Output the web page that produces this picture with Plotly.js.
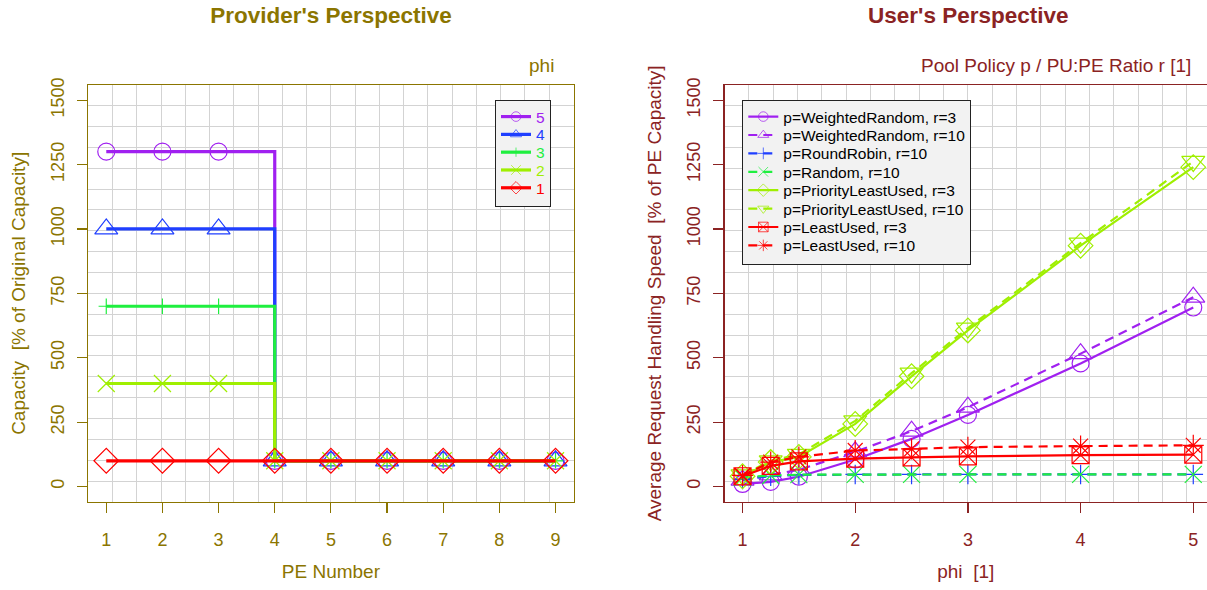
<!DOCTYPE html>
<html>
<head>
<meta charset="utf-8">
<script src="https://cdn.plot.ly/plotly-3.0.1.min.js"></script>
<style>html,body{margin:0;padding:0;background:#fff}#chart{width:1207px;height:590px}</style>
</head>
<body>
<div id="chart"></div>
<script>
// ---------- data: Provider's Perspective ----------
var peNumbers = [1, 2, 3, 4, 5, 6, 7, 8, 9];
var phiLabels = ['5', '4', '3', '2', '1'];
var capPhi5 = [1300, 1300, 1300, 100, 100, 100, 100, 100, 100];
var capPhi4 = [1000, 1000, 1000, 100, 100, 100, 100, 100, 100];
var capPhi3 = [700, 700, 700, 100, 100, 100, 100, 100, 100];
var capPhi2 = [400, 400, 400, 100, 100, 100, 100, 100, 100];
var capPhi1 = [100, 100, 100, 100, 100, 100, 100, 100, 100];

// ---------- data: User's Perspective ----------
var phiValues = [1, 1.25, 1.5, 2, 2.5, 3, 4, 5];
var seriesNames = ['p=WeightedRandom, r=3', 'p=WeightedRandom, r=10', 'p=RoundRobin, r=10',
  'p=Random, r=10', 'p=PriorityLeastUsed, r=3', 'p=PriorityLeastUsed, r=10',
  'p=LeastUsed, r=3', 'p=LeastUsed, r=10'];
var speedWR3 = [10, 18, 38, 105, 185, 278, 478, 695];
var speedWR10 = [25, 45, 65, 135, 215, 308, 516, 735];
var speedRR10 = [28, 40, 45, 47, 47, 47, 47, 47];
var speedRnd10 = [35, 43, 46, 47, 47, 47, 47, 47];
var speedPLU3 = [40, 95, 115, 243, 428, 606, 935, 1240];
var speedPLU10 = [45, 100, 125, 255, 440, 615, 945, 1262];
var speedLU3 = [40, 80, 98, 108, 113, 117, 122, 124];
var speedLU10 = [43, 95, 115, 140, 146, 153, 157, 160];

var xTicksLeft = [1, 2, 3, 4, 5, 6, 7, 8, 9];
var xTicksRight = [1, 2, 3, 4, 5];
var yTicks = [0, 250, 500, 750, 1000, 1250, 1500];

// ---------- styling ----------
var FONT = 'Liberation Sans, Arial, Helvetica, sans-serif';
var GOLD = '#8B7500';
var BROWN = '#8B2323';
var GRID = '#d3d3d3';
var cPurple = '#A020F0', cBlue = '#1F3FFF', cGreen = '#1FEF3F', cYG = '#9FEF00', cRed = '#FF0000';

var W = 1207, H = 590;
var leftX0 = 88.3 / W, leftX1 = 573.5 / W, rightX0 = 724.5 / W;
var yBot = (H - 502) / H, yTop = (H - 84.7) / H;
var yRange = [-60, 1560];
var xRangeL = [0.68, 9.32];
var xRangeR = [0.84, 5.16 - 4.3 / 112.67];

var traces = [];
var leftSeries = [capPhi5, capPhi4, capPhi3, capPhi2, capPhi1];
var leftColors = [cPurple, cBlue, cGreen, cYG, cRed];
var leftSymbols = ['circle-open', 'triangle-up-open', 'cross-thin-open', 'x-thin-open', 'diamond-open'];
var leftSizes = [17, 20, 11, 17, 19];
for (var i = 0; i < leftSeries.length; i++) {
  traces.push({
    type: 'scatter', mode: 'lines+markers', x: peNumbers, y: leftSeries[i],
    name: phiLabels[i], xaxis: 'x', yaxis: 'y', legend: 'legend',
    line: {color: leftColors[i], width: 3.2, shape: 'hv'},
    marker: {symbol: leftSymbols[i], size: leftSizes[i], color: leftColors[i], line: {color: leftColors[i], width: 1.2}},
    hoverinfo: 'x+y+name'
  });
}

var rightSeries = [speedWR3, speedWR10, speedRR10, speedRnd10, speedPLU3, speedPLU10, speedLU3, speedLU10];
var rightColors = [cPurple, cPurple, cBlue, cGreen, cYG, cYG, cRed, cRed];
var rightDash = ['solid', '9px,6px', '9px,6px', '9px,6px', 'solid', '9px,6px', 'solid', '9px,6px'];
var rightSymbols = ['circle-open', 'triangle-up-open', 'cross-thin-open', 'x-thin-open', 'diamond-open',
  'triangle-down-open', 'square-x-open', 'asterisk-open'];
var rightSizes = [17, 20, 14, 17, 19, 20, 17, 17.5];
for (var j = 0; j < rightSeries.length; j++) {
  traces.push({
    type: 'scatter', mode: 'lines+markers', x: phiValues, y: rightSeries[j],
    name: seriesNames[j], xaxis: 'x2', yaxis: 'y2', legend: 'legend2',
    line: {color: rightColors[j], width: 2.2, dash: rightDash[j]},
    marker: {symbol: rightSymbols[j], size: rightSizes[j], color: rightColors[j], line: {color: rightColors[j], width: 1.2}},
    hoverinfo: 'x+y+name'
  });
}
// empty carrier traces so that the overlaid tick/label axes get drawn
traces.push({type: 'scatter', mode: 'markers', x: [], y: [], xaxis: 'x3', yaxis: 'y3', showlegend: false, hoverinfo: 'skip'});
traces.push({type: 'scatter', mode: 'markers', x: [], y: [], xaxis: 'x4', yaxis: 'y4', showlegend: false, hoverinfo: 'skip'});

function gridAxis(domain, range, color, n, mirror, anchor) {
  return {
    domain: domain, range: range, anchor: anchor, fixedrange: true,
    tick0: range[0], dtick: (range[1] - range[0]) / n,
    showgrid: true, gridcolor: GRID, gridwidth: 1,
    showticklabels: false, ticks: '', zeroline: false,
    showline: true, linecolor: color, linewidth: 1.2, mirror: mirror
  };
}
function tickAxis(over, anchor, range, vals, color, title, side, angle, labelOff, titleOff) {
  return {
    overlaying: over, anchor: anchor, range: range, side: side, fixedrange: true,
    tickmode: 'array', tickvals: vals, ticktext: vals.map(String),
    ticks: 'outside', ticklen: 10, tickwidth: 1.2, tickcolor: color,
    tickfont: {family: FONT, size: 18, color: color}, tickangle: angle,
    ticklabelstandoff: labelOff,
    showgrid: false, zeroline: false, showline: false,
    title: {text: title, standoff: titleOff, font: {family: FONT, size: 19, color: color}}
  };
}

var legendCommon = {
  bgcolor: '#f2f2f2', bordercolor: '#222222', borderwidth: 1,
  xanchor: 'left', yanchor: 'top', xref: 'paper', yref: 'paper',
  tracegroupgap: 0, itemsizing: 'trace'
};

var layout = {
  width: W, height: H, margin: {l: 0, r: 0, t: 0, b: 0},
  paper_bgcolor: '#ffffff', plot_bgcolor: '#ffffff',
  font: {family: FONT},
  showlegend: true,
  title: {text: "<b>Provider's Perspective</b>", font: {family: FONT, size: 22.5, color: GOLD},
    x: 331 / W, xanchor: 'center', xref: 'paper', y: 1 - 15.5 / H, yanchor: 'middle', yref: 'paper'},
  xaxis: gridAxis([leftX0, leftX1], xRangeL, GOLD, 20, true, 'y'),
  yaxis: gridAxis([yBot, yTop], yRange, GOLD, 20, true, 'x'),
  xaxis2: gridAxis([rightX0, 1], xRangeR, BROWN, 20 * (xRangeR[1] - xRangeR[0]) / 4.32, true, 'y2'),
  yaxis2: gridAxis([yBot, yTop], yRange, BROWN, 20, false, 'x2'),
  xaxis3: tickAxis('x', 'y', xRangeL, xTicksLeft, GOLD, 'PE Number', 'bottom', 0, 11, 16),
  yaxis3: tickAxis('y', 'x', yRange, yTicks, GOLD, 'Capacity\u00a0\u00a0[% of Original Capacity]', 'left', -90, 6, 17),
  xaxis4: tickAxis('x2', 'y2', xRangeR, xTicksRight, BROWN, 'phi\u00a0\u00a0[1]', 'bottom', 0, 11, 16),
  yaxis4: tickAxis('y2', 'x2', yRange, yTicks, BROWN, 'Average Request Handling Speed\u00a0\u00a0[% of PE Capacity]', 'left', -90, 6, 17),
  legend: Object.assign({}, legendCommon, {x: 495 / W, y: 1 - 100 / H, font: {family: FONT, size: 15.5, color: '#000'}}),
  legend2: Object.assign({}, legendCommon, {x: 742.3 / W, y: 1 - 100 / H, font: {family: FONT, size: 15.5, color: '#000'}}),
  annotations: [
    {text: "<b>User's Perspective</b>", x: 968 / W, y: 1 - 15.5 / H, xref: 'paper', yref: 'paper',
      xanchor: 'center', yanchor: 'middle', showarrow: false, font: {family: FONT, size: 22.5, color: BROWN}},
    {text: 'phi', x: 556 / W, y: 1 - 65 / H, xref: 'paper', yref: 'paper',
      xanchor: 'right', yanchor: 'middle', showarrow: false, font: {family: FONT, size: 19, color: GOLD}},
    {text: 'Pool Policy p / PU:PE Ratio r [1]', x: 1193 / W, y: 1 - 65 / H, xref: 'paper', yref: 'paper',
      xanchor: 'right', yanchor: 'middle', showarrow: false, font: {family: FONT, size: 19, color: BROWN}}
  ]
};
layout.yaxis2.showline = false;
layout.yaxis4.showline = true;
layout.yaxis4.linecolor = BROWN;
layout.yaxis4.linewidth = 1.2;

// legend rows of the reference are packed tighter than Plotly's default
var legendStep = {legend: 17.8, legend2: 18.4};
var legendColors = {legend: leftColors, legend2: rightColors};

Plotly.newPlot('chart', traces, layout, {displayModeBar: false, staticPlot: true}).then(function (gd) {
  Object.keys(legendStep).forEach(function (name) {
    var lg = gd.querySelector('.' + name);
    if (!lg) return;
    var items = lg.querySelectorAll('.traces');
    var ys = [];
    items.forEach(function (it) {
      var m = /translate\(\s*([-\d.]+)[ ,]+([-\d.]+)/.exec(it.getAttribute('transform') || '');
      ys.push(m ? [parseFloat(m[1]), parseFloat(m[2])] : [0, 0]);
    });
    if (ys.length < 2) return;
    var oldStep = (ys[ys.length - 1][1] - ys[0][1]) / (ys.length - 1);
    var step = legendStep[name];
    items.forEach(function (it, k) {
      it.setAttribute('transform', 'translate(' + ys[k][0] + ',' + (ys[0][1] + k * step - 1) + ')');
      var t = it.querySelector('.legendtext');
      if (t) t.style.fill = legendColors[name][k];
      it.querySelectorAll('.legendpoints path.scatterpts').forEach(function (p) {
        var tr = p.getAttribute('transform') || '';
        p.setAttribute('transform', tr + ' scale(0.6)');
      });
    });
    var shrink = (oldStep - step) * (ys.length - 1);
    lg.querySelectorAll('rect.bg').forEach(function (r) {
      var h = parseFloat(r.getAttribute('height'));
      r.setAttribute('height', h - shrink);
    });
  });
});
</script>
</body>
</html>
